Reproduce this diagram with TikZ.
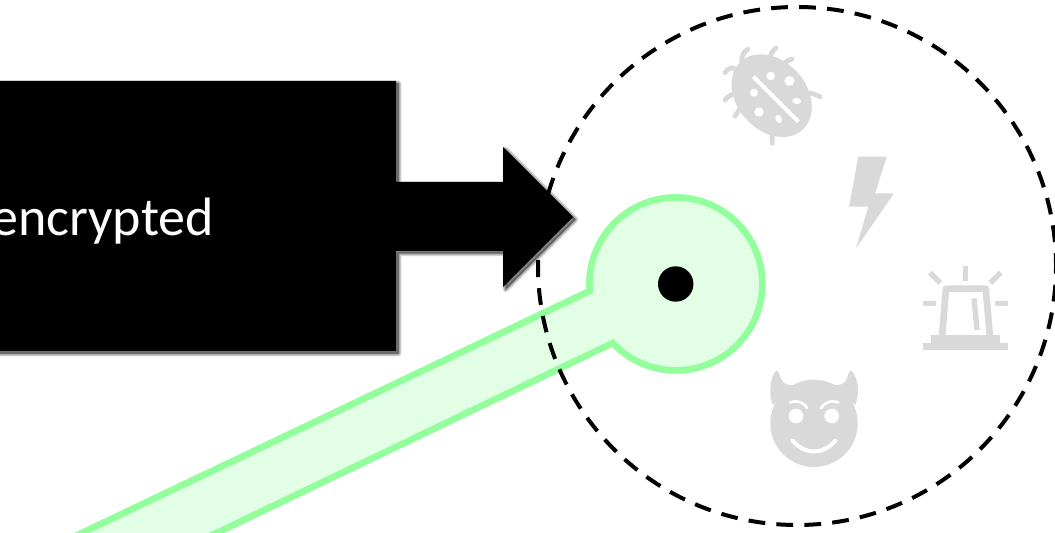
\documentclass[tikz,border=0pt]{standalone}
\usepackage{fontspec}
\setmainfont{Carlito}
\definecolor{icongrey}{HTML}{D9D9D9}
\definecolor{tubeline}{HTML}{92FF9C}
\definecolor{tubefill}{HTML}{E2FFE6}
\tikzset{
  tube/.style={draw=tubeline,fill=tubefill,line width=5pt,line join=miter},
  zone/.style={draw=black,line width=3pt,dash pattern=on 12.6pt off 8.4pt,dash phase=3pt},
  hubdot/.style={fill=black},
  icon/.style={fill=icongrey},
  cutout/.style={fill=white},
  bugleg/.style={draw=icongrey,line width=3.6pt,line cap=round},
  alarmline/.style={draw=icongrey,line width=4pt},
  whitestroke/.style={draw=white,line cap=round},
  label/.style={text=white,inner sep=0pt,anchor=base east,font=\fontsize{40.5pt}{48pt}\selectfont}
}
\newcommand{\bannerpath}{(-30,451) -- (396,451) -- (396,350) -- (503,350) -- (503,385) -- (573,315) -- (503,245) -- (503,281) -- (396,281) -- (396,181) -- (-30,181) -- cycle}
\begin{document}
\begin{tikzpicture}[x=.75pt,y=.75pt]
\useasboundingbox (0,0) rectangle (1055,532);
\clip (0,0) rectangle (1055,532);
\fill[white] (0,0) rectangle (1055,532);
\coordinate (hub) at (675.7,248);
\coordinate (zonecentre) at (797,266);
% green tube
\draw[tube] (177,-20) -- (612.7,189) arc [start angle=223.1,end angle=544.7,radius=86.5] -- (42,-20) -- cycle;
% dashed zone
\draw[zone] (zonecentre) circle [radius=259];
\fill[hubdot] (hub) circle [radius=17.7];
% banner with soft shadow towards the lower right
\foreach \w in {6,5,4,3,2,1}{
  \fill[black,opacity=.08,shift={(2.5,-2.5)}] \bannerpath;
  \draw[black,opacity=.08,line width=\w*.75pt,line join=round,shift={(2.5,-2.5)}] \bannerpath;
}
\fill[black] \bannerpath;
\node[label] (enc) at (214,296.5) {encrypted};
% bug
\begin{scope}[shift={(700,502)},x=.25pt,y=-.25pt]
  \draw[bugleg] (125,95) .. controls (125,75) and (132,65) .. (143,58);
  \draw[bugleg] (208,95) .. controls (210,75) and (216,62) .. (228,54);
  \draw[bugleg] (248,105) .. controls (255,97) and (265,90) .. (276,87);
  \draw[bugleg] (110,122) .. controls (100,108) and (85,112) .. (75,128);
  \draw[bugleg] (110,190) .. controls (95,192) and (85,198) .. (75,210);
  \draw[bugleg] (125,230) -- (105,258);
  \draw[bugleg] (215,300) -- (217,340);
  \draw[bugleg] (325,190) .. controls (340,190) and (350,195) .. (360,200);
  \fill[icon,rotate around={-48:(215,197)}] (215,197) ellipse [x radius=138,y radius=104];
  \draw[draw=white,line width=3pt] (160,140) -- (295,275);
  \fill[cutout] (212,138) circle [radius=13];
  \fill[cutout] (268,153) circle [radius=15];
  \fill[cutout,rotate around={-10:(290,213)}] (290,213) ellipse [x radius=13,y radius=9];
  \fill[cutout,rotate around={-65:(236,267)}] (236,267) ellipse [x radius=13,y radius=9];
  \fill[cutout] (177,246) circle [radius=14];
  \fill[cutout] (162,188) circle [radius=12];
\end{scope}
% bolt and alarm
\begin{scope}[shift={(820,392)},x=.25pt,y=-.25pt]
  \fill[icon] (115,50) -- (200,50) -- (165,160) -- (222,160) -- (108,325) -- (145,200) -- (87,200) -- cycle;
  \draw[alarmline] (436,378) -- (436,422);
  \draw[alarmline] (330,398) -- (361,429);
  \draw[alarmline] (542,398) -- (511,429);
  \draw[alarmline] (310,490) -- (348,490);
  \draw[alarmline] (526,490) -- (564,490);
  \draw[draw=icongrey,line width=5pt,line join=round] (366,590) -- (378,446) -- (497,446) -- (510,590);
  \draw[alarmline] (462,475) -- (471,570);
  \fill[icon] (333,585) rectangle (540,608);
  \fill[icon] (310,608) rectangle (563,630);
\end{scope}
% devil
\begin{scope}[shift={(750,172)},x=.25pt,y=-.25pt]
  \fill[icon] (192,190) circle [radius=131];
  \fill[icon] (68,135) .. controls (55,100) and (60,55) .. (78,32) .. controls (88,32) and (88,45) .. (92,55) .. controls (98,72) and (115,78) .. (135,75) -- cycle;
  \fill[icon] (316,135) .. controls (330,100) and (325,55) .. (305,32) .. controls (295,32) and (295,45) .. (291,55) .. controls (285,72) and (268,78) .. (248,75) -- cycle;
  \fill[cutout] (138,168) circle [radius=22];
  \fill[cutout] (245,168) circle [radius=22];
  \draw[whitestroke,line width=2pt] (120,127) .. controls (140,120) and (160,125) .. (172,145);
  \draw[whitestroke,line width=2pt] (265,127) .. controls (245,120) and (225,125) .. (213,145);
  \draw[whitestroke,line width=3pt] (128,242) .. controls (165,285) and (220,285) .. (256,242);
\end{scope}
\end{tikzpicture}
\end{document}
